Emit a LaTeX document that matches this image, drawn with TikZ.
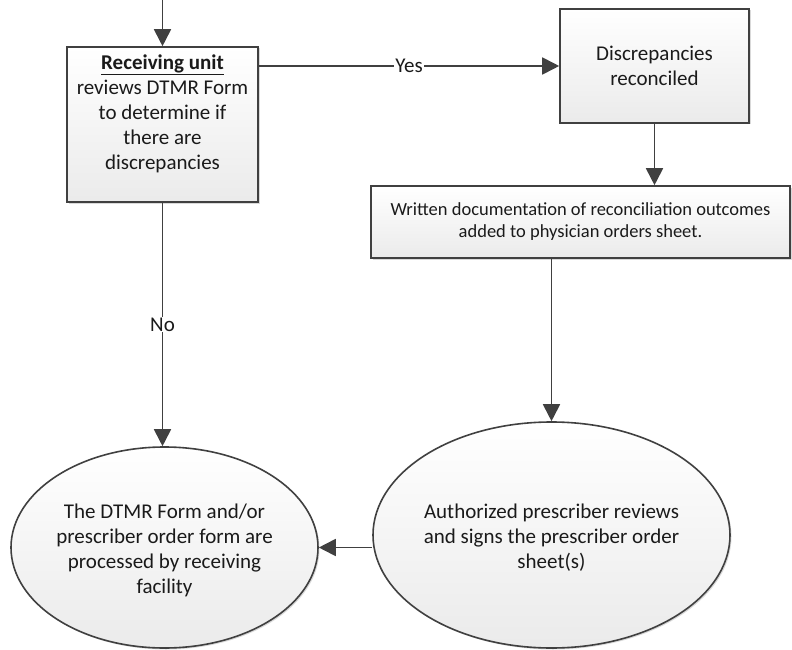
\documentclass[tikz,border=0pt]{standalone}
\usepackage{fontspec}
\setmainfont{Carlito}
\usetikzlibrary{arrows.meta,shapes.geometric,shadows}

\definecolor{edgegray}{HTML}{404040}
\definecolor{textgray}{HTML}{1A1A1A}

\tikzset{
  procbox/.style={rectangle, draw=edgegray, line width=1.6pt, align=center,
    top color=white, bottom color=black!8, text=textgray, inner sep=0pt,
    drop shadow={shadow xshift=1.5pt, shadow yshift=-1.5pt, opacity=0.3},
    font=\fontsize{21}{25}\selectfont},
  procoval/.style={ellipse, draw=edgegray, line width=1.6pt, inner sep=0pt,
    top color=white, bottom color=black!8,
    drop shadow={shadow xshift=1.5pt, shadow yshift=-1.5pt, opacity=0.3}},
  ovaltext/.style={align=center, text=textgray, font=\fontsize{21}{25}\selectfont},
  flowarrow/.style={draw=edgegray, line width=1.8pt, -{Triangle[length=17pt,width=17pt]}},
  branchlabel/.style={fill=white, inner sep=1pt, text=textgray, font=\fontsize{21}{25}\selectfont}
}

\begin{document}
\begin{tikzpicture}[x=1pt, y=-1pt]
  \useasboundingbox (0,0) rectangle (792,650);

  % Top row: check and reconcile
  \node[procbox, minimum width=191pt, minimum height=155pt] (recv) at (162.5,124.5)
    {\textbf{\underline{Receiving unit}}\\ reviews DTMR Form\\ to determine if\\ there are\\ discrepancies\\ \mbox{}};
  \node[procbox, minimum width=189pt, minimum height=114pt] (recon) at (654.5,66)
    {Discrepancies\\ reconciled};
  \node[procbox, font=\fontsize{18.5}{22}\selectfont, minimum width=419pt, minimum height=72pt] (written) at (580.5,222)
    {Written documentation of reconciliation outcomes\\ added to physician orders sheet.};

  % Bottom row: ovals
  \node[procoval, minimum width=307pt, minimum height=201pt] (processed) at (164.5,547.5) {};
  \node[ovaltext] (processedtext) at (164.5,550)
    {The DTMR Form and/or\\ prescriber order form are\\ processed by receiving\\ facility};
  \node[procoval, minimum width=357pt, minimum height=226pt] (authorized) at (551.5,535) {};
  \node[ovaltext] (authorizedtext) at (551.5,538)
    {Authorized prescriber reviews\\ and signs the prescriber order\\ sheet(s)};

  % Connectors
  \coordinate (entry) at (162.5,0);
  \draw[flowarrow] (entry) -- (recv.north);
  \draw[flowarrow] (recon.west -| recv.east) -- node[branchlabel] {Yes} (recon.west);
  \draw[flowarrow] (recon.south) -- (recon.south |- written.north);
  \draw[flowarrow] (written.south -| authorized.north) -- (authorized.north);
  \draw[flowarrow] (recv.south) -- node[branchlabel] {No} (recv.south |- processed.north);
  \draw[flowarrow] (processed.east -| authorized.west) -- (processed.east);
\end{tikzpicture}
\end{document}
